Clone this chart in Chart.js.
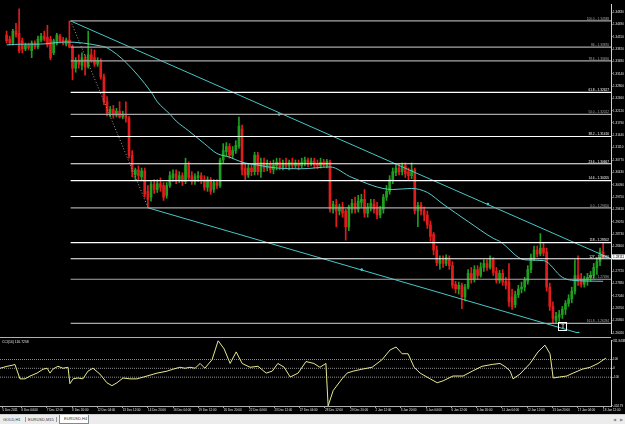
<!DOCTYPE html>
<html>
<head>
<meta charset="utf-8">
<script src="https://cdn.jsdelivr.net/npm/chart.js@4.4.1/dist/chart.umd.min.js"></script>
<style>
  body { margin: 0; background: #000; width: 625px; height: 424px; overflow: hidden; position: relative; font-family: "Liberation Sans", Arial, sans-serif; }
  #mainBox { position: absolute; left: 0; top: 0; width: 625px; height: 337px; }
  #sep { position: absolute; left: 0; top: 337px; width: 611px; height: 1px; background: #b0b0b0; }
  #cciBox { position: absolute; left: 0; top: 338px; width: 625px; height: 76px; }
  #tabs { position: absolute; left: 0; top: 414px; width: 625px; height: 10px; background: #ececec; border-top: 1px solid #d0d0d0; box-sizing: border-box; }
  .tab { position: absolute; top: 2px; font-size: 4px; line-height: 5px; color: #333; white-space: nowrap; }
  .bar { position: absolute; top: 2px; width: 1px; height: 5px; background: #999; }
  .active { top: 0; height: 9px; padding: 0 4px; line-height: 8px; background: #fff; border: 1px solid #888; border-top: none; box-sizing: border-box; }
  .arr { position: absolute; top: 2px; font-size: 4px; line-height: 5px; color: #888; }
</style>
</head>
<body>
<div id="mainBox"><canvas id="mainChart"></canvas></div>
<div id="sep"></div>
<div id="cciBox"><canvas id="cciChart"></canvas></div>
<div id="tabs">
  <span class="tab" style="left:3px">GOLD,H1</span>
  <span class="bar" style="left:25px"></span>
  <span class="tab" style="left:28px">EURUSD,M15</span>
  <span class="bar" style="left:56px"></span>
  <span class="tab active" style="left:59px;width:30px">EURUSD,H4</span>
  <span class="arr" style="left:613px">&#9664;</span>
  <span class="arr" style="left:620px">&#9654;</span>
</div>
<script>
// EURUSD H4 candles, one per bar (bar index = position in array)
const opens = [
  1.3420,1.3409,1.3398,1.3431,1.3425,1.3404,1.3382,1.3393,1.3377,1.3398,
  1.3387,1.3406,1.3417,1.3414,1.3409,1.3371,1.3398,1.3417,1.3406,1.3395,
  1.3406,1.3387,1.3329,1.3350,1.3337,1.3355,1.3334,1.3366,1.3358,1.3340,
  1.3350,1.3305,1.3237,1.3206,1.3216,1.3200,1.3211,1.3195,1.3203,1.3192,
  1.3090,1.3037,1.3050,1.3031,1.3047,1.2991,1.2975,1.3010,1.2996,1.3012,
  1.3007,1.2980,1.3007,1.3029,1.3039,1.3023,1.3034,1.3018,1.3063,1.3034,
  1.3018,1.3029,1.3034,1.3023,1.3002,1.3023,1.2996,1.3015,1.3007,1.3077,
  1.3100,1.3114,1.3090,1.3103,1.3114,1.3162,1.3055,1.3036,1.3055,1.3045,
  1.3090,1.3045,1.3071,1.3055,1.3066,1.3050,1.3061,1.3071,1.3058,1.3069,
  1.3061,1.3071,1.3061,1.3069,1.3061,1.3069,1.3077,1.3066,1.3074,1.3066,
  1.3061,1.3071,1.3061,1.3071,1.2942,1.2953,1.2937,1.2948,1.2937,1.2894,
  1.2942,1.2958,1.2942,1.2961,1.2969,1.2931,1.2948,1.2956,1.2948,1.2926,
  1.2942,1.2975,1.2991,1.3023,1.3042,1.3055,1.3045,1.3061,1.3045,1.3034,
  1.3050,1.2937,1.2953,1.2937,1.2926,1.2899,1.2873,1.2830,1.2793,1.2803,
  1.2793,1.2803,1.2787,1.2736,1.2723,1.2733,1.2701,1.2728,1.2766,1.2750,
  1.2776,1.2760,1.2782,1.2793,1.2782,1.2803,1.2771,1.2747,1.2766,1.2744,
  1.2742,1.2701,1.2680,1.2707,1.2723,1.2728,1.2744,1.2776,1.2809,1.2830,
  1.2819,1.2835,1.2825,1.2728,1.2675,1.2637,1.2645,1.2653,1.2667,1.2683,
  1.2696,1.2717,1.2760,1.2750,1.2736,1.2747,1.2755,1.2760,1.2782,1.2798,
  1.2825
];
const highs = [
  1.3431,1.3417,1.3436,1.3452,1.3492,1.3412,1.3398,1.3398,1.3404,1.3404,
  1.3417,1.3425,1.3431,1.3447,1.3417,1.3409,1.3425,1.3422,1.3414,1.3412,
  1.34588,1.3393,1.3358,1.3366,1.3371,1.3366,1.3431,1.3382,1.3379,1.3358,
  1.3355,1.3313,1.3251,1.3224,1.3227,1.3219,1.3237,1.3211,1.3237,1.3197,
  1.3103,1.3055,1.3061,1.3055,1.3055,1.3007,1.3018,1.3023,1.3023,1.3028,
  1.3015,1.3015,1.3045,1.3050,1.3050,1.3045,1.3042,1.3082,1.3072,1.3045,
  1.3039,1.3045,1.3042,1.3034,1.3031,1.3029,1.3023,1.3023,1.3082,1.3122,
  1.3125,1.3122,1.3114,1.3130,1.3195,1.3173,1.3066,1.3066,1.3063,1.3098,
  1.3098,1.3082,1.3082,1.3077,1.3074,1.3077,1.3082,1.3082,1.3077,1.3082,
  1.3077,1.3082,1.3077,1.3077,1.3082,1.3085,1.3082,1.3082,1.3082,1.3077,
  1.3082,1.3079,1.3079,1.3077,1.2964,1.2969,1.2956,1.2961,1.2942,1.2953,
  1.2969,1.2975,1.2980,1.2983,1.2996,1.2958,1.2969,1.2969,1.2961,1.2950,
  1.2983,1.3007,1.3034,1.3055,1.3063,1.3066,1.3069,1.3069,1.3055,1.3069,
  1.3055,1.2961,1.2961,1.2948,1.2937,1.2910,1.2878,1.2841,1.2814,1.2814,
  1.2817,1.2814,1.2798,1.2744,1.2742,1.2739,1.2736,1.2776,1.2782,1.2787,
  1.2787,1.2795,1.2803,1.2803,1.2814,1.2809,1.2782,1.2774,1.2776,1.2755,
  1.2793,1.2723,1.2717,1.2733,1.2742,1.2755,1.2787,1.2819,1.2841,1.2841,
  1.2875,1.2849,1.2835,1.2739,1.2688,1.2659,1.2664,1.2675,1.2691,1.2707,
  1.2728,1.2803,1.2814,1.2766,1.2758,1.2766,1.2771,1.2793,1.2809,1.2835,
  1.2849
];
const lows = [
  1.3398,1.3393,1.3393,1.3414,1.3371,1.3371,1.3377,1.3379,1.3358,1.3382,
  1.3382,1.3401,1.3404,1.3387,1.3352,1.3366,1.3393,1.3398,1.3393,1.3390,
  1.3385,1.3297,1.3318,1.3329,1.3324,1.3310,1.3329,1.3345,1.3334,1.3334,
  1.3299,1.3229,1.3198,1.3195,1.3192,1.3195,1.3192,1.3190,1.3181,1.3082,
  1.3031,1.3023,1.3023,1.3023,1.2975,1.29456,1.2964,1.2985,1.2988,1.2991,
  1.2966,1.2972,1.3002,1.3018,1.3012,1.3015,1.3007,1.3012,1.3020,1.3010,
  1.3010,1.3018,1.3012,1.2994,1.2991,1.2983,1.2988,1.2999,1.3002,1.3069,
  1.3087,1.3082,1.3082,1.3095,1.3109,1.3036,1.3023,1.3029,1.3034,1.3036,
  1.3036,1.3029,1.3045,1.3047,1.3042,1.3039,1.3050,1.3050,1.3050,1.3055,
  1.3050,1.3053,1.3055,1.3050,1.3055,1.3061,1.3058,1.3061,1.3055,1.3053,
  1.3055,1.3058,1.3055,1.2934,1.2931,1.2894,1.2926,1.2920,1.2857,1.2883,
  1.2931,1.2931,1.2934,1.2948,1.2920,1.2920,1.2937,1.2931,1.2916,1.2918,
  1.2931,1.2966,1.2983,1.3012,1.3034,1.3036,1.3036,1.3029,1.3023,1.3026,
  1.2929,1.2894,1.2926,1.2910,1.2889,1.2854,1.2817,1.2787,1.2777,1.2782,
  1.2787,1.2777,1.2725,1.2712,1.2709,1.2669,1.2690,1.2723,1.2739,1.2742,
  1.2750,1.2755,1.2771,1.2774,1.2777,1.2760,1.2739,1.2739,1.2733,1.2723,
  1.2675,1.2667,1.2672,1.2699,1.2712,1.2717,1.2736,1.2768,1.2801,1.2811,
  1.2814,1.2814,1.2717,1.2664,1.26284,1.2629,1.2634,1.2642,1.2653,1.2675,
  1.2685,1.2709,1.2733,1.2728,1.2728,1.2733,1.2744,1.2752,1.2763,1.2787,
  1.2809
];
const closes = [
  1.3404,1.3398,1.3431,1.3420,1.3377,1.3382,1.3393,1.3385,1.3398,1.3387,
  1.3409,1.3417,1.3409,1.3393,1.3358,1.3404,1.3420,1.3404,1.3398,1.3406,
  1.3387,1.3329,1.3350,1.3340,1.3358,1.3332,1.3366,1.3350,1.3340,1.3350,
  1.3305,1.3237,1.3206,1.3216,1.3200,1.3211,1.3195,1.3203,1.3192,1.3090,
  1.3045,1.3050,1.3034,1.3047,1.2983,1.2969,1.3010,1.2996,1.3012,1.3002,
  1.2975,1.3007,1.3034,1.3039,1.3023,1.3034,1.3018,1.3063,1.3029,1.3018,
  1.3031,1.3034,1.3020,1.3002,1.3023,1.2991,1.3015,1.3007,1.3077,1.3103,
  1.3114,1.3090,1.3103,1.3117,1.3170,1.3050,1.3036,1.3055,1.3045,1.3090,
  1.3045,1.3071,1.3055,1.3066,1.3050,1.3063,1.3071,1.3058,1.3069,1.3061,
  1.3071,1.3061,1.3069,1.3061,1.3071,1.3077,1.3066,1.3074,1.3063,1.3061,
  1.3071,1.3063,1.3074,1.2942,1.2956,1.2937,1.2948,1.2931,1.2894,1.2948,
  1.2958,1.2942,1.2964,1.2969,1.2931,1.2948,1.2958,1.2942,1.2926,1.2942,
  1.2975,1.2991,1.3023,1.3045,1.3055,1.3045,1.3061,1.3039,1.3034,1.3050,
  1.2937,1.2953,1.2937,1.2926,1.2899,1.2867,1.2830,1.2795,1.2803,1.2793,
  1.2809,1.2787,1.2733,1.2723,1.2733,1.2701,1.2728,1.2766,1.2750,1.2776,
  1.2760,1.2782,1.2793,1.2782,1.2803,1.2768,1.2747,1.2766,1.2742,1.2733,
  1.2688,1.2675,1.2707,1.2723,1.2728,1.2747,1.2776,1.2809,1.2830,1.2819,
  1.2835,1.2822,1.2728,1.2675,1.2642,1.2648,1.2653,1.2667,1.2683,1.2696,
  1.2717,1.2760,1.2744,1.2736,1.2750,1.2755,1.2760,1.2782,1.2798,1.2825,
  1.28111
];

// moving average, read at a handful of bars
const maBars   = [0, 5, 10, 19, 30, 32, 38, 46, 48, 52, 54, 58, 63, 67, 71, 75, 80, 86, 94, 103, 110, 123, 129, 134, 139, 147, 155, 157, 165, 171, 177, 180, 190];
const maValues = [1.3393, 1.3395, 1.3395, 1.3401, 1.3390, 1.3385, 1.3345, 1.3264, 1.3237, 1.3203, 1.3184, 1.3157, 1.3122, 1.3095, 1.3085, 1.3071, 1.3063, 1.3055, 1.3053, 1.3058, 1.3029, 1.2996, 1.2999, 1.2988, 1.2956, 1.2908, 1.2862, 1.2854, 1.2803, 1.2801, 1.2755, 1.2747, 1.2744];

// fibonacci object
const fibFromBar = 20.4;
const fibNames  = ["100.0", "86", "78.6", "61.8", "50.0", "38.2", "23.6", "14.6", "0.0", "118", "127", "38.2", "161.8"];
const fibPrices = [1.34588, 1.33870, 1.33490, 1.32627, 1.32022, 1.31416, 1.30667, 1.30205, 1.29456, 1.28502, 1.28060, 1.27496, 1.26284];

// trend lines: [bar, price]
const upperTrendBars = [20.4, 192.5];
const upperTrendPrices = [1.34588, 1.2806];
const upperDotBars = [86.8, 153.3];
const upperDotPrices = [1.3202, 1.2956];
const lowerTrendBars = [45.1, 182.1];
const lowerTrendPrices = [1.29456, 1.2602];
const lowerDotBars = [113.1, 182.1];
const lowerDotPrices = [1.2776, 1.2602];
const fibDiagBars = [20.4, 45.1];
const fibDiagPrices = [1.34588, 1.29456];
const arrowBar = 177, arrowPrice = 1.2621;

// price axis labels
const priceTicks = [1.34830, 1.34490, 1.34150, 1.33810, 1.33480, 1.33140, 1.32800, 1.32460, 1.32120,
  1.31790, 1.31440, 1.31110, 1.30770, 1.30430, 1.30090, 1.29750, 1.29410, 1.29070, 1.28730,
  1.28400, 1.28060, 1.27720, 1.27380, 1.27040, 1.26700, 1.26360, 1.26020];

// time axis labels
const timeBars = [0, 6, 14, 22, 30, 38, 46, 54, 62, 70, 78, 86, 94, 102, 110, 118, 126, 134, 142, 150, 158, 166, 174, 182, 190];
const timeLabels = ["5 Dec 2011", "6 Dec 04:00", "7 Dec 12:00", "8 Dec 20:00", "12 Dec 04:00", "13 Dec 12:00",
  "14 Dec 20:00", "16 Dec 04:00", "19 Dec 12:00", "20 Dec 20:00", "22 Dec 04:00", "23 Dec 12:00",
  "27 Dec 04:00", "28 Dec 12:00", "29 Dec 20:00", "2 Jan 12:00", "3 Jan 20:00", "5 Jan 04:00",
  "6 Jan 12:00", "9 Jan 20:00", "11 Jan 04:00", "12 Jan 12:00", "13 Jan 20:00", "17 Jan 04:00", "18 Jan 12:00"];

// CCI(14)
const cciBars = [-0.8,1.4,3.0,3.9,5.5,7.1,8.7,10.9,12.8,14.1,
  15.0,15.9,17.5,19.1,20.7,21.3,22.3,23.9,25.4,27.0,
  28.6,30.8,33.0,34.6,36.2,38.1,40.3,42.5,45.7,48.9,
  52.0,53.9,56.1,57.7,59.3,60.9,62.5,64.0,66.3,68.2,
  70.1,72.0,73.9,75.8,78.3,80.8,83.4,85.3,87.1,89.1,
  91.0,93.5,96.0,98.5,100.4,102.3,103.0,104.6,107.4,109.0,
  110.9,113.7,116.9,120.1,122.6,124.5,126.4,128.3,130.2,132.1,
  135.3,137.5,139.4,142.5,145.7,148.6,151.7,154.9,157.4,159.3,
  160.6,161.5,163.7,166.9,169.4,171.6,173.2,174.2,176.2,178.5,
  180.5,183.4,185.9,188.4,190.9];
const cciValues = [1,23,34,44,-119,-119,-87,-54,-10,1,
  -54,-10,23,1,12,-174,-119,-109,-119,-32,
  1,-65,-163,-196,-163,-109,-119,-119,-87,-54,
  -32,-10,12,1,12,1,55,1,99,311.9438,
  219,55,186,55,12,23,-54,-32,55,12,
  -98,-54,77,55,12,55,-424.79,-251,-119,-54,
  -32,-10,12,99,208,241,165,165,12,-54,
  -119,-163,-141,-87,-87,-32,23,44,55,12,
  -32,-119,-65,55,186,262,165,-109,-98,-87,
  -54,-10,12,55,116.7258];
const cciLevels = [100, 0, -100];
const cciTicks = [311.9438, 100, 0, -100, -424.79];

// ---------- drawing ----------
const xMin = -0.82, xMax = 192.5;
const bull = '#1f9f1f', bear = '#e21b1b';
const cyan = '#45c8c8';
const tinyFont = { size: 3, family: 'Liberation Sans' };

const isUp = closes.map((c, i) => c >= opens[i]);
const pts = (xs, ys) => xs.map((x, i) => ({ x: x, y: ys[i] }));
const line = (data, color, extra) => Object.assign({
  type: 'line', data: data, borderColor: color, borderWidth: 1,
  pointRadius: 0, fill: false, tension: 0, order: 1
}, extra || {});

const brightFib = [3, 5, 6, 7, 9, 10];
const fibColor = i => brightFib.includes(i) ? '#ffffff' : '#a8a8a8';

const datasets = [];
fibPrices.forEach((p, i) => {
  datasets.push(line(pts([fibFromBar, xMax], [p, p]), fibColor(i), { borderWidth: 1.2 }));
});
datasets.push(line(pts(fibDiagBars, fibDiagPrices), '#9a9a9a', { borderDash: [1, 2] }));
datasets.push(line(pts(upperTrendBars, upperTrendPrices), cyan));
datasets.push(line(pts(lowerTrendBars, lowerTrendPrices), cyan));
datasets.push(line(pts(upperDotBars, upperDotPrices), 'rgba(0,0,0,0)', { showLine: false, pointRadius: 1.3, pointBackgroundColor: cyan, pointBorderWidth: 0 }));
datasets.push(line(pts(lowerDotBars, lowerDotPrices), 'rgba(0,0,0,0)', { showLine: false, pointRadius: 1.3, pointBackgroundColor: cyan, pointBorderWidth: 0 }));
datasets.push(line(pts(maBars, maValues), '#5ccccc', { cubicInterpolationMode: 'monotone' }));
datasets.push({
  type: 'bar', order: 5, grouped: false, barThickness: 1,
  data: closes.map((c, i) => ({ x: i, y: [lows[i], highs[i]] })),
  backgroundColor: isUp.map(u => u ? bull : bear)
});
datasets.push({
  type: 'bar', order: 4, grouped: false, barThickness: 2, minBarLength: 1,
  data: closes.map((c, i) => ({ x: i, y: [opens[i], c] })),
  backgroundColor: isUp.map(u => u ? bull : bear)
});

const fibLabelPlugin = {
  id: 'fibLabels',
  afterDatasetsDraw(chart) {
    const { ctx, chartArea, scales } = chart;
    ctx.save();
    ctx.font = '3.2px "Liberation Sans"';
    ctx.textAlign = 'right';
    ctx.textBaseline = 'bottom';
    fibPrices.forEach((p, i) => {
      ctx.fillStyle = fibColor(i);
      ctx.fillText(fibNames[i] + ' - ' + p.toFixed(5), chartArea.right - 2, scales.y.getPixelForValue(p) - 0.5);
    });
    // arrow object in a box
    const ax = scales.x.getPixelForValue(arrowBar), ay = scales.y.getPixelForValue(arrowPrice);
    ctx.strokeStyle = '#ffffff';
    ctx.lineWidth = 1;
    ctx.strokeRect(Math.round(ax - 4) + 0.5, Math.round(ay - 4) + 0.5, 8, 8);
    ctx.fillStyle = '#ffffff';
    ctx.textAlign = 'center';
    ctx.textBaseline = 'middle';
    ctx.font = '6px "DejaVu Sans"';
    ctx.fillText('\u21E7', ax + 0.5, ay + 0.5);
    // last price marker on the axis
    const last = closes[closes.length - 1];
    const ly = scales.y.getPixelForValue(last);
    ctx.fillStyle = '#ffffff';
    ctx.fillRect(chartArea.right + 1, ly - 2.5, 14, 5);
    ctx.fillStyle = '#000000';
    ctx.textAlign = 'left';
    ctx.font = '3.2px "Liberation Sans"';
    ctx.fillText(last.toFixed(5), chartArea.right + 2, ly);
    ctx.restore();
  }
};

new Chart(document.getElementById('mainChart'), {
  type: 'bar',
  data: { datasets: datasets },
  options: {
    responsive: true, maintainAspectRatio: false, animation: false, events: [],
    layout: { padding: 0 },
    plugins: { legend: { display: false }, tooltip: { enabled: false } },
    scales: {
      x: { type: 'linear', min: xMin, max: xMax, offset: false, display: false },
      y: {
        position: 'right', min: 1.26021, max: 1.35053,
        afterBuildTicks: s => { s.ticks = priceTicks.map(v => ({ value: v })); },
        afterFit: s => { s.width = 14; },
        ticks: { color: '#e0e0e0', font: tinyFont, padding: 0.5, callback: v => v.toFixed(5) },
        grid: { drawOnChartArea: false, drawTicks: true, tickLength: 1.5, color: '#d0d0d0' },
        border: { color: '#d0d0d0', width: 1 }
      }
    }
  },
  plugins: [fibLabelPlugin]
});

const cciLabelPlugin = {
  id: 'cciLabel',
  afterDraw(chart) {
    const { ctx } = chart;
    ctx.save();
    ctx.font = '3.4px "Liberation Sans"';
    ctx.fillStyle = '#e0e0e0';
    ctx.textBaseline = 'top';
    ctx.fillText('CCI(14) ' + cciValues[cciValues.length - 1].toFixed(4), 2, 2);
    ctx.restore();
  }
};

const cciSets = [line(pts(cciBars, cciValues), '#e8e88c')];
cciLevels.forEach(v => cciSets.push(line(pts([xMin, xMax], [v, v]), '#8c8c8c', { borderDash: [1, 1] })));

new Chart(document.getElementById('cciChart'), {
  type: 'line',
  data: { datasets: cciSets },
  options: {
    responsive: true, maintainAspectRatio: false, animation: false, events: [],
    layout: { padding: 0 },
    plugins: { legend: { display: false }, tooltip: { enabled: false } },
    scales: {
      x: {
        type: 'linear', min: xMin, max: xMax, position: 'bottom',
        afterBuildTicks: s => { s.ticks = timeBars.map(v => ({ value: v })); },
        afterFit: s => { s.height = 8; },
        ticks: { color: '#e0e0e0', font: tinyFont, padding: 0.5, maxRotation: 0, autoSkip: false, align: 'start',
          callback: (v, i) => timeLabels[i] },
        grid: { drawOnChartArea: false, drawTicks: true, tickLength: 2, color: '#a0a0a0' },
        border: { color: '#b0b0b0', width: 1 }
      },
      y: {
        position: 'right', min: -426, max: 317,
        afterBuildTicks: s => { s.ticks = cciTicks.map(v => ({ value: v })); },
        afterFit: s => { s.width = 14; },
        ticks: { color: '#e0e0e0', font: tinyFont, padding: 0.5, callback: v => String(v) },
        grid: { drawOnChartArea: false, drawTicks: true, tickLength: 1.5, color: '#d0d0d0' },
        border: { color: '#d0d0d0', width: 1 }
      }
    }
  },
  plugins: [cciLabelPlugin]
});
</script>
</body>
</html>
